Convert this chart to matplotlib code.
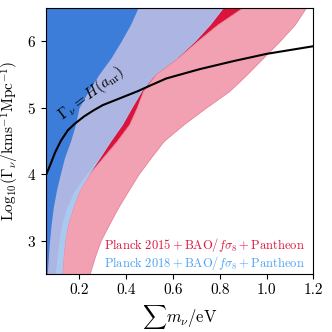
import matplotlib
matplotlib.use("Agg")
import matplotlib.pyplot as plt
import numpy as np

plt.rcParams['font.family'] = 'serif'
plt.rcParams['font.serif'] = ['cmr10']
plt.rcParams['mathtext.fontset'] = 'cm'
plt.rcParams['axes.formatter.use_mathtext'] = True

# boundaries of the regions: sum m_nu (eV) at each log10(Gamma) level
y_grid = [2.5, 2.75, 3.0, 3.25, 3.5, 3.75, 4.0, 4.25, 4.5, 4.75, 5.0, 5.25, 5.5, 5.75, 6.0, 6.25, 6.5]
m_dark = [0.062, 0.067, 0.072, 0.079, 0.088, 0.101, 0.118, 0.136, 0.162, 0.183, 0.198, 0.238, 0.283, 0.335, 0.378, 0.418, 0.45]
m_lav = [0.096, 0.104, 0.112, 0.124, 0.145, 0.178, 0.228, 0.284, 0.33, 0.38, 0.42, 0.462, 0.518, 0.613, 0.69, 0.755, 0.81]
m_light = [0.125, 0.13, 0.137, 0.15, 0.172, 0.198, 0.24, 0.288, 0.334, 0.384, 0.424, 0.466, 0.522, 0.617, 0.694, 0.759, 0.814]
m_pink_l = [0.125, 0.13, 0.137, 0.15, 0.172, 0.198, 0.24, 0.3, 0.36, 0.413, 0.445, 0.472, 0.525, 0.62, 0.703, 0.79, 0.895]
m_pink_r = [0.243, 0.265, 0.29, 0.327, 0.365, 0.408, 0.452, 0.505, 0.56, 0.645, 0.74, 0.84, 0.915, 0.985, 1.055, 1.12, 1.167]

# Gamma_nu = H(a_nr) curve
m_h = [0.057, 0.075, 0.096, 0.12, 0.15, 0.18, 0.22, 0.26, 0.3, 0.35, 0.4, 0.45, 0.5, 0.571, 0.714, 0.857, 1.0, 1.2]
g_h = [3.99, 4.14, 4.33, 4.5, 4.66, 4.76, 4.87, 4.96, 5.04, 5.11, 5.18, 5.25, 5.33, 5.44, 5.58, 5.70, 5.81, 5.925]

xmin = 0.057
fig = plt.figure(figsize=(3.32, 3.32), dpi=100)
ax = fig.add_axes([0.1386, 0.1747, 0.8054, 0.8013])

yy = np.array(y_grid)
crim = yy >= 3.9
ax.fill_betweenx(yy, xmin, m_pink_l, where=crim, color='#dc143c', lw=0)
ax.fill_betweenx(yy, m_pink_l, m_pink_r, facecolor='#f2a1b2', edgecolor='#e8809a', lw=0.6)
ax.fill_betweenx(yy, xmin, m_light, color='#a9c9f1', lw=0)
ax.fill_betweenx(yy, xmin, m_lav, color='#adb5e2', lw=0)
ax.fill_betweenx(yy, xmin, m_dark, color='#3b7dd8', lw=0)

ax.plot(m_h, g_h, color='black', lw=1.5)
ax.text(0.25, 5.21, r'$\Gamma_\nu = H(a_{\rm nr})$', rotation=37,
        ha='center', va='center', fontsize=11)

ax.text(1.165, 2.93, r'$\mathrm{Planck\ 2015} + \mathrm{BAO}/f\sigma_8 + \mathrm{Pantheon}$',
        color='#dc143c', ha='right', va='center', fontsize=9)
ax.text(1.165, 2.66, r'$\mathrm{Planck\ 2018} + \mathrm{BAO}/f\sigma_8 + \mathrm{Pantheon}$',
        color='#4da3f7', ha='right', va='center', fontsize=9)

ax.set_xlim(xmin, 1.2)
ax.set_ylim(2.5, 6.5)
ax.set_xticks([0.2, 0.4, 0.6, 0.8, 1.0, 1.2])
ax.set_xticklabels(['0.2', '0.4', '0.6', '0.8', '1.0', '1.2'])
ax.set_yticks([3, 4, 5, 6])
ax.tick_params(labelsize=11)
ax.set_xlabel(r'$\sum m_\nu/\mathrm{eV}$', fontsize=12)
ax.set_ylabel(r'$\mathrm{Log}_{10}(\Gamma_\nu/\mathrm{kms}^{-1}\mathrm{Mpc}^{-1})$', fontsize=11)

fig.savefig('out.png', dpi=100)
